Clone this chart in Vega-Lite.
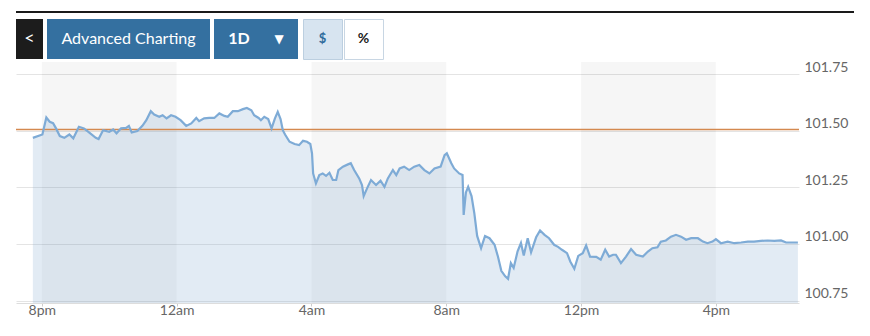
{
  "$schema": "https://vega.github.io/schema/vega-lite/v6.json",
  "padding": {"top": 11, "left": 15, "right": 5, "bottom": 2},
  "background": "white",
  "spacing": 0,
  "config": {"view": {"stroke": null}, "font": "Lato"},
  "datasets": {
    "buttons": [
      {"button": "back", "label": "<"},
      {"button": "Advanced Charting", "label": "Advanced Charting"},
      {"button": "1D", "label": "1D", "icon": "▼"},
      {"button": "$", "label": "$"},
      {"button": "%", "label": "%"}
    ],
    "bands": [
      {"start": "2024-03-04T20:00", "end": "2024-03-05T00:00"},
      {"start": "2024-03-05T04:00", "end": "2024-03-05T08:00"},
      {"start": "2024-03-05T12:00", "end": "2024-03-05T16:00"}
    ],
    "ref": [{"prev_close": 101.505}],
    "prices": [
      {"t": "2024-03-04T19:44", "v": 101.468},
      {"t": "2024-03-04T20:01", "v": 101.483},
      {"t": "2024-03-04T20:08", "v": 101.558},
      {"t": "2024-03-04T20:14", "v": 101.539},
      {"t": "2024-03-04T20:20", "v": 101.533},
      {"t": "2024-03-04T20:25", "v": 101.511},
      {"t": "2024-03-04T20:32", "v": 101.476},
      {"t": "2024-03-04T20:40", "v": 101.468},
      {"t": "2024-03-04T20:49", "v": 101.483},
      {"t": "2024-03-04T20:56", "v": 101.466},
      {"t": "2024-03-04T21:06", "v": 101.517},
      {"t": "2024-03-04T21:15", "v": 101.510},
      {"t": "2024-03-04T21:24", "v": 101.492},
      {"t": "2024-03-04T21:36", "v": 101.468},
      {"t": "2024-03-04T21:41", "v": 101.463},
      {"t": "2024-03-04T21:49", "v": 101.502},
      {"t": "2024-03-04T22:00", "v": 101.495},
      {"t": "2024-03-04T22:07", "v": 101.505},
      {"t": "2024-03-04T22:13", "v": 101.488},
      {"t": "2024-03-04T22:21", "v": 101.510},
      {"t": "2024-03-04T22:30", "v": 101.512},
      {"t": "2024-03-04T22:35", "v": 101.521},
      {"t": "2024-03-04T22:40", "v": 101.492},
      {"t": "2024-03-04T22:50", "v": 101.498},
      {"t": "2024-03-04T22:59", "v": 101.521},
      {"t": "2024-03-04T23:06", "v": 101.546},
      {"t": "2024-03-04T23:14", "v": 101.586},
      {"t": "2024-03-04T23:20", "v": 101.571},
      {"t": "2024-03-04T23:29", "v": 101.561},
      {"t": "2024-03-04T23:35", "v": 101.568},
      {"t": "2024-03-04T23:42", "v": 101.554},
      {"t": "2024-03-04T23:50", "v": 101.568},
      {"t": "2024-03-04T23:58", "v": 101.561},
      {"t": "2024-03-05T00:07", "v": 101.546},
      {"t": "2024-03-05T00:17", "v": 101.521},
      {"t": "2024-03-05T00:26", "v": 101.532},
      {"t": "2024-03-05T00:35", "v": 101.556},
      {"t": "2024-03-05T00:40", "v": 101.542},
      {"t": "2024-03-05T00:49", "v": 101.554},
      {"t": "2024-03-05T00:58", "v": 101.556},
      {"t": "2024-03-05T01:07", "v": 101.556},
      {"t": "2024-03-05T01:16", "v": 101.576},
      {"t": "2024-03-05T01:25", "v": 101.565},
      {"t": "2024-03-05T01:31", "v": 101.561},
      {"t": "2024-03-05T01:40", "v": 101.586},
      {"t": "2024-03-05T01:49", "v": 101.586},
      {"t": "2024-03-05T01:58", "v": 101.595},
      {"t": "2024-03-05T02:05", "v": 101.600},
      {"t": "2024-03-05T02:13", "v": 101.590},
      {"t": "2024-03-05T02:18", "v": 101.568},
      {"t": "2024-03-05T02:26", "v": 101.556},
      {"t": "2024-03-05T02:30", "v": 101.546},
      {"t": "2024-03-05T02:36", "v": 101.561},
      {"t": "2024-03-05T02:43", "v": 101.551},
      {"t": "2024-03-05T02:49", "v": 101.510},
      {"t": "2024-03-05T02:55", "v": 101.554},
      {"t": "2024-03-05T03:00", "v": 101.583},
      {"t": "2024-03-05T03:05", "v": 101.551},
      {"t": "2024-03-05T03:09", "v": 101.502},
      {"t": "2024-03-05T03:13", "v": 101.483},
      {"t": "2024-03-05T03:21", "v": 101.451},
      {"t": "2024-03-05T03:30", "v": 101.441},
      {"t": "2024-03-05T03:38", "v": 101.436},
      {"t": "2024-03-05T03:45", "v": 101.455},
      {"t": "2024-03-05T03:52", "v": 101.451},
      {"t": "2024-03-05T03:58", "v": 101.441},
      {"t": "2024-03-05T04:01", "v": 101.400},
      {"t": "2024-03-05T04:03", "v": 101.311},
      {"t": "2024-03-05T04:08", "v": 101.267},
      {"t": "2024-03-05T04:14", "v": 101.304},
      {"t": "2024-03-05T04:20", "v": 101.311},
      {"t": "2024-03-05T04:26", "v": 101.300},
      {"t": "2024-03-05T04:32", "v": 101.314},
      {"t": "2024-03-05T04:38", "v": 101.282},
      {"t": "2024-03-05T04:44", "v": 101.282},
      {"t": "2024-03-05T04:48", "v": 101.326},
      {"t": "2024-03-05T04:56", "v": 101.341},
      {"t": "2024-03-05T05:05", "v": 101.351},
      {"t": "2024-03-05T05:10", "v": 101.356},
      {"t": "2024-03-05T05:16", "v": 101.326},
      {"t": "2024-03-05T05:25", "v": 101.289},
      {"t": "2024-03-05T05:30", "v": 101.260},
      {"t": "2024-03-05T05:33", "v": 101.211},
      {"t": "2024-03-05T05:39", "v": 101.245},
      {"t": "2024-03-05T05:46", "v": 101.282},
      {"t": "2024-03-05T05:55", "v": 101.260},
      {"t": "2024-03-05T06:03", "v": 101.279},
      {"t": "2024-03-05T06:10", "v": 101.252},
      {"t": "2024-03-05T06:16", "v": 101.289},
      {"t": "2024-03-05T06:25", "v": 101.326},
      {"t": "2024-03-05T06:31", "v": 101.304},
      {"t": "2024-03-05T06:37", "v": 101.333},
      {"t": "2024-03-05T06:45", "v": 101.341},
      {"t": "2024-03-05T06:54", "v": 101.326},
      {"t": "2024-03-05T07:03", "v": 101.341},
      {"t": "2024-03-05T07:12", "v": 101.348},
      {"t": "2024-03-05T07:21", "v": 101.326},
      {"t": "2024-03-05T07:30", "v": 101.311},
      {"t": "2024-03-05T07:39", "v": 101.333},
      {"t": "2024-03-05T07:50", "v": 101.341},
      {"t": "2024-03-05T07:57", "v": 101.392},
      {"t": "2024-03-05T08:01", "v": 101.400},
      {"t": "2024-03-05T08:09", "v": 101.356},
      {"t": "2024-03-05T08:14", "v": 101.333},
      {"t": "2024-03-05T08:23", "v": 101.311},
      {"t": "2024-03-05T08:29", "v": 101.304},
      {"t": "2024-03-05T08:31", "v": 101.128},
      {"t": "2024-03-05T08:35", "v": 101.227},
      {"t": "2024-03-05T08:39", "v": 101.252},
      {"t": "2024-03-05T08:45", "v": 101.211},
      {"t": "2024-03-05T08:50", "v": 101.135},
      {"t": "2024-03-05T08:55", "v": 101.035},
      {"t": "2024-03-05T09:02", "v": 100.981},
      {"t": "2024-03-05T09:09", "v": 101.035},
      {"t": "2024-03-05T09:17", "v": 101.025},
      {"t": "2024-03-05T09:26", "v": 100.996},
      {"t": "2024-03-05T09:32", "v": 100.944},
      {"t": "2024-03-05T09:38", "v": 100.881},
      {"t": "2024-03-05T09:45", "v": 100.857},
      {"t": "2024-03-05T09:50", "v": 100.846},
      {"t": "2024-03-05T09:55", "v": 100.915},
      {"t": "2024-03-05T10:00", "v": 100.894},
      {"t": "2024-03-05T10:07", "v": 100.967},
      {"t": "2024-03-05T10:13", "v": 101.004},
      {"t": "2024-03-05T10:18", "v": 100.949},
      {"t": "2024-03-05T10:25", "v": 101.025},
      {"t": "2024-03-05T10:31", "v": 100.963},
      {"t": "2024-03-05T10:40", "v": 101.029},
      {"t": "2024-03-05T10:47", "v": 101.059},
      {"t": "2024-03-05T10:55", "v": 101.040},
      {"t": "2024-03-05T11:03", "v": 101.025},
      {"t": "2024-03-05T11:12", "v": 100.996},
      {"t": "2024-03-05T11:19", "v": 100.987},
      {"t": "2024-03-05T11:26", "v": 100.974},
      {"t": "2024-03-05T11:35", "v": 100.959},
      {"t": "2024-03-05T11:41", "v": 100.921},
      {"t": "2024-03-05T11:48", "v": 100.890},
      {"t": "2024-03-05T11:55", "v": 100.947},
      {"t": "2024-03-05T12:03", "v": 100.959},
      {"t": "2024-03-05T12:09", "v": 100.993},
      {"t": "2024-03-05T12:16", "v": 100.944},
      {"t": "2024-03-05T12:27", "v": 100.943},
      {"t": "2024-03-05T12:35", "v": 100.930},
      {"t": "2024-03-05T12:43", "v": 100.974},
      {"t": "2024-03-05T12:50", "v": 100.944},
      {"t": "2024-03-05T12:57", "v": 100.952},
      {"t": "2024-03-05T13:02", "v": 100.952},
      {"t": "2024-03-05T13:11", "v": 100.915},
      {"t": "2024-03-05T13:20", "v": 100.944},
      {"t": "2024-03-05T13:29", "v": 100.977},
      {"t": "2024-03-05T13:38", "v": 100.952},
      {"t": "2024-03-05T13:50", "v": 100.944},
      {"t": "2024-03-05T13:59", "v": 100.966},
      {"t": "2024-03-05T14:07", "v": 100.981},
      {"t": "2024-03-05T14:16", "v": 100.985},
      {"t": "2024-03-05T14:22", "v": 101.010},
      {"t": "2024-03-05T14:31", "v": 101.015},
      {"t": "2024-03-05T14:40", "v": 101.032},
      {"t": "2024-03-05T14:49", "v": 101.040},
      {"t": "2024-03-05T14:58", "v": 101.032},
      {"t": "2024-03-05T15:07", "v": 101.018},
      {"t": "2024-03-05T15:16", "v": 101.025},
      {"t": "2024-03-05T15:28", "v": 101.025},
      {"t": "2024-03-05T15:37", "v": 101.010},
      {"t": "2024-03-05T15:45", "v": 101.003},
      {"t": "2024-03-05T15:54", "v": 101.010},
      {"t": "2024-03-05T16:00", "v": 101.021},
      {"t": "2024-03-05T16:09", "v": 101.003},
      {"t": "2024-03-05T16:21", "v": 101.010},
      {"t": "2024-03-05T16:33", "v": 101.003},
      {"t": "2024-03-05T16:45", "v": 101.006},
      {"t": "2024-03-05T16:57", "v": 101.010},
      {"t": "2024-03-05T17:08", "v": 101.010},
      {"t": "2024-03-05T17:20", "v": 101.013},
      {"t": "2024-03-05T17:32", "v": 101.015},
      {"t": "2024-03-05T17:44", "v": 101.013},
      {"t": "2024-03-05T17:56", "v": 101.015},
      {"t": "2024-03-05T18:05", "v": 101.006},
      {"t": "2024-03-05T18:17", "v": 101.006},
      {"t": "2024-03-05T18:26", "v": 101.006}
    ]
  },
  "vconcat": [
    {
      "spacing": 5,
      "vconcat": [
        {
          "width": 838,
          "height": 2,
          "view": {"fill": "#1a1a1a", "stroke": null},
          "data": {"values": [{"line": "top"}]},
          "mark": {"type": "rect", "color": "#1a1a1a"}
        },
        {
          "spacing": 4,
          "hconcat": [
            {
              "width": 27, "height": 40,
              "view": {"fill": "#1c1c1c", "stroke": null},
              "data": {"name": "buttons"},
              "transform": [{"filter": "datum.button === 'back'"}],
              "mark": {"type": "text", "color": "#ffffff", "font": "Lato", "fontSize": 18, "baseline": "middle"},
              "encoding": {"text": {"field": "label"}}
            },
            {
              "width": 163, "height": 40,
              "view": {"fill": "#3470a0", "stroke": null},
              "data": {"name": "buttons"},
              "transform": [{"filter": "datum.button === 'Advanced Charting'"}],
              "mark": {"type": "text", "color": "#ffffff", "font": "Lato", "fontSize": 16, "baseline": "middle"},
              "encoding": {"text": {"field": "label"}}
            },
            {
              "width": 84, "height": 40,
              "view": {"fill": "#3470a0", "stroke": null},
              "data": {"name": "buttons"},
              "transform": [{"filter": "datum.button === '1D'"}],
              "layer": [
                {"mark": {"type": "text", "color": "#ffffff", "font": "Lato", "fontSize": 16, "fontWeight": "bold", "baseline": "middle", "dx": -17},
                 "encoding": {"text": {"field": "label"}}},
                {"mark": {"type": "text", "color": "#ffffff", "font": "DejaVu Sans", "fontSize": 12, "baseline": "middle", "dx": 23},
                 "encoding": {"text": {"field": "icon"}}}
              ]
            },
            {
              "spacing": 0,
              "hconcat": [
                {
                  "width": 39, "height": 40,
                  "view": {"fill": "#d7e4f0", "stroke": "#bccfe0"},
                  "data": {"name": "buttons"},
                  "transform": [{"filter": "datum.button === '$'"}],
                  "mark": {"type": "text", "color": "#2f6c9c", "font": "Lato", "fontSize": 13, "fontWeight": "bold", "baseline": "middle"},
                  "encoding": {"text": {"field": "label"}}
                },
                {
                  "width": 39, "height": 40,
                  "view": {"fill": "#ffffff", "stroke": "#c8d6e3"},
                  "data": {"name": "buttons"},
                  "transform": [{"filter": "datum.button === '%'"}],
                  "mark": {"type": "text", "color": "#222222", "font": "Lato", "fontSize": 14, "fontWeight": "bold", "baseline": "middle"},
                  "encoding": {"text": {"field": "label"}}
                }
              ]
            }
          ]
        }
      ]
    },
    {
      "width": 783,
      "height": 241,
      "layer": [
        {
          "data": {"name": "bands"},
          "mark": {"type": "rect", "color": "#000000", "opacity": 0.035},
          "encoding": {
            "x": {"field": "start", "type": "temporal",
                  "scale": {"domain": [{"year": 2024, "month": 3, "date": 4, "hours": 19, "minutes": 14}, {"year": 2024, "month": 3, "date": 5, "hours": 18, "minutes": 28}]},
                  "axis": {"values": [
                      {"year": 2024, "month": 3, "date": 4, "hours": 20},
                      {"year": 2024, "month": 3, "date": 5, "hours": 0},
                      {"year": 2024, "month": 3, "date": 5, "hours": 4},
                      {"year": 2024, "month": 3, "date": 5, "hours": 8},
                      {"year": 2024, "month": 3, "date": 5, "hours": 12},
                      {"year": 2024, "month": 3, "date": 5, "hours": 16}],
                    "labelExpr": "lower(timeFormat(datum.value, '%-I%p'))",
                    "title": null, "grid": false, "domain": true, "domainColor": "#dddddd",
                    "ticks": true, "tickColor": "#cccccc", "tickSize": 3,
                    "labelFont": "Lato", "labelFontSize": 14, "labelColor": "#666666", "labelPadding": -3, "labelFlush": false}},
            "x2": {"field": "end"}
          }
        },
        {
          "data": {"name": "prices"},
          "mark": {"type": "area", "color": "#7aa6cc", "opacity": 0.22, "clip": true},
          "encoding": {
            "x": {"field": "t", "type": "temporal", "axis": {"title": null}},
            "y": {"field": "v", "type": "quantitative",
                  "scale": {"domain": [100.739, 101.803], "zero": false, "nice": false},
                  "axis": {"orient": "right", "values": [100.75, 101, 101.25, 101.5, 101.75], "format": ".2f", "title": null,
                           "grid": true, "gridColor": "#e4e4e4", "domain": false, "ticks": false,
                           "labelFont": "Lato", "labelFontSize": 14, "labelColor": "#666666", "labelPadding": 5,
                           "labelBaseline": "alphabetic", "labelAlign": "left", "labelOffset": -3}}
          }
        },
        {
          "data": {"name": "ref"},
          "mark": {"type": "rule", "color": "#d4894f", "strokeWidth": 1.5},
          "encoding": {"y": {"field": "prev_close", "type": "quantitative", "axis": {"title": null}}}
        },
        {
          "data": {"name": "prices"},
          "mark": {"type": "line", "color": "#7eabd6", "strokeWidth": 2.2, "clip": true},
          "encoding": {
            "x": {"field": "t", "type": "temporal", "axis": {"title": null}},
            "y": {"field": "v", "type": "quantitative", "axis": {"title": null}}
          }
        }
      ]
    }
  ]
}
